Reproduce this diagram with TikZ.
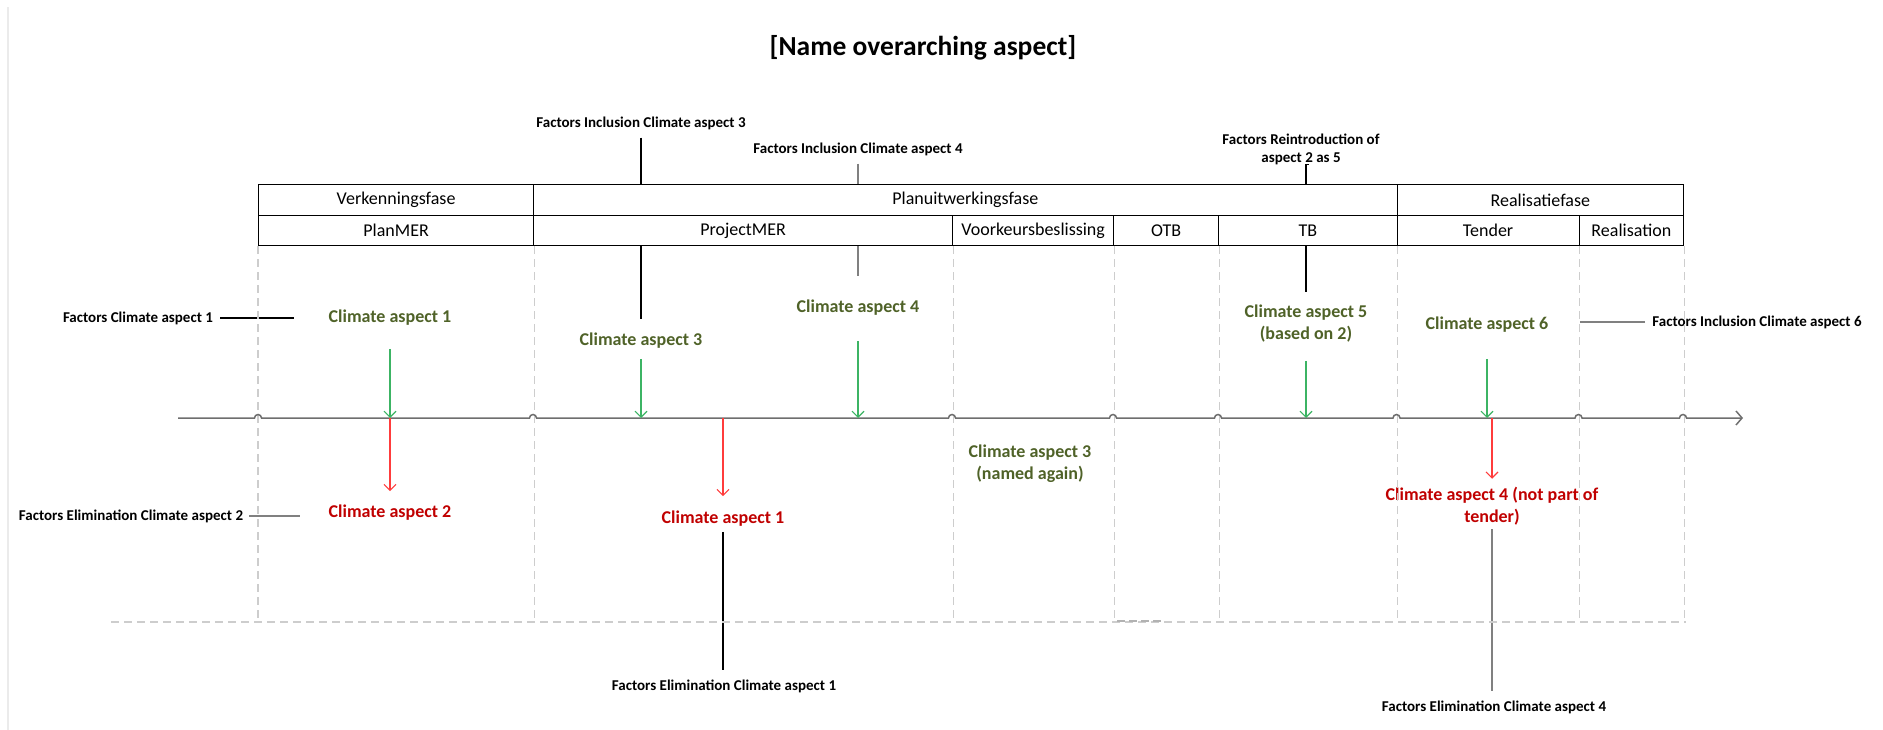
\documentclass[tikz,border=0pt]{standalone}
\usepackage{fontspec}
\setmainfont{Carlito}
\usetikzlibrary{arrows.meta}

\definecolor{aspgreen}{HTML}{4F6228}
\definecolor{aspred}{HTML}{C00000}
\definecolor{arrgreen}{RGB}{60,180,100}
\definecolor{arrred}{RGB}{255,60,60}
\definecolor{guidegray}{RGB}{205,205,205}
\definecolor{axisgray}{RGB}{110,110,110}

\tikzset{
  cell/.style={draw=black, line width=1.2pt, fill=white, inner sep=0pt,
    anchor=north west, font=\fontsize{18}{22}\selectfont},
  factor/.style={inner sep=0pt, align=center, text=black,
    font=\bfseries\fontsize{15}{18}\selectfont},
  keep/.style={inner sep=0pt, align=center, text=aspgreen,
    font=\bfseries\fontsize{18}{22}\selectfont},
  drop/.style={inner sep=0pt, align=center, text=aspred,
    font=\bfseries\fontsize{18}{22}\selectfont},
  link/.style={line width=1.1pt, draw=black},
  softlink/.style={line width=1.1pt, draw=gray},
  guide/.style={draw=guidegray, line width=1.3pt, dash pattern=on 8pt off 5pt},
  addarrow/.style={draw=arrgreen, line width=1.1pt,
    -{Straight Barb[length=6pt,width=12pt,line width=1.1pt]}},
  droparrow/.style={draw=arrred, line width=1.1pt,
    -{Straight Barb[length=6pt,width=12pt,line width=1.1pt]}},
  axis/.style={draw=axisgray, line width=1.5pt,
    -{Straight Barb[length=6pt,width=14pt,line width=1.5pt]}}
}

\begin{document}
\begin{tikzpicture}[x=1pt,y=-1pt]
\useasboundingbox (0,0) rectangle (1883,730);

% faint page edge
\draw[draw=black!8, line width=1.5pt] (8,7) -- (8,730);

% title
\node[inner sep=0pt, font=\bfseries\fontsize{27.5}{32}\selectfont] (title) at (923,48) {[Name overarching aspect]};

% factor labels
\node[factor] (fi3) at (641,123) {Factors Inclusion Climate aspect 3};
\node[factor] (fi4) at (858,149) {Factors Inclusion Climate aspect 4};
\node[factor] (fr5) at (1301,149) {Factors Reintroduction of\\aspect 2 as 5};
\node[factor] (fc1) at (138,318) {Factors Climate aspect 1};
\node[factor] (fi6) at (1757,322) {Factors Inclusion Climate aspect 6};
\node[factor] (fe2) at (131,516) {Factors Elimination Climate aspect 2};
\node[factor] (fe1) at (724,686) {Factors Elimination Climate aspect 1};
\node[factor] (fe4) at (1494,707) {Factors Elimination Climate aspect 4};

% climate aspects kept / added
\node[keep] (ca1) at (390,318) {Climate aspect 1};
\node[keep] (ca3) at (641,341) {Climate aspect 3};
\node[keep] (ca4) at (858,308) {Climate aspect 4};
\node[keep] (ca5) at (1306,324) {Climate aspect 5\\(based on 2)};
\node[keep] (ca6) at (1487,325) {Climate aspect 6};
\node[keep] (ca3b) at (1030,464) {Climate aspect 3\\(named again)};

% climate aspects dropped
\node[drop] (rc2) at (390,513) {Climate aspect 2};
\node[drop] (rc1) at (723,519) {Climate aspect 1};
\node[drop] (rc4) at (1492,506) {Climate aspect 4 (not part of\\tender)};

% links from factors to aspects (the table covers the middle part)
\draw[link, shorten <=8pt, shorten >=14pt] (fi3) -- (ca3);
\draw[softlink, shorten <=8pt, shorten >=24pt] (fi4) -- (ca4);
\draw[link, shorten <=8pt, shorten >=13pt] (fr5.south) -- (fr5.south -| ca5) -- (ca5.north);
\draw[link, shorten <=7pt, shorten >=34pt] (fc1.east) -- (fc1.east -| ca1.west);
\draw[softlink, shorten <=7pt, shorten >=31pt] (fi6.west) -- (fi6.west -| ca6.east);
\draw[softlink, shorten <=6pt, shorten >=28pt] (fe2.east) -- (fe2.east -| rc2.west);
\draw[link, shorten <=5pt, shorten >=9pt] (rc1.south) -- (rc1.south |- fe1.north);
\draw[softlink, shorten <=4pt, shorten >=9pt] (rc4.south) -- (rc4.south |- fe4.north);

% phase table
\node[cell, minimum width=275pt, minimum height=31pt] (verk) at (258,184) {Verkenningsfase};
\node[cell, minimum width=863.5pt, minimum height=31pt] (plan) at (533,184) {Planuitwerkingsfase};
\node[cell, minimum width=286.5pt, minimum height=31pt] (reali) at (1396.5,184) {Realisatiefase};
\node[cell, minimum width=275pt, minimum height=30pt] (planmer) at (258,215) {PlanMER};
\node[cell, minimum width=419pt, minimum height=30pt] (projmer) at (533,215) {ProjectMER};
\node[cell, minimum width=161pt, minimum height=30pt] (voork) at (952,215) {Voorkeursbeslissing};
\node[cell, minimum width=105pt, minimum height=30pt] (otb) at (1113,215) {OTB};
\node[cell, minimum width=178.5pt, minimum height=30pt] (tb) at (1218,215) {TB};
\node[cell, minimum width=182pt, minimum height=30pt] (tender) at (1396.5,215) {Tender};
\node[cell, minimum width=104.5pt, minimum height=30pt] (realis) at (1578.5,215) {Realisation};

% phase guides
\coordinate (base) at (0,622);
\foreach \c in {planmer.south west, planmer.south east, projmer.south east,
                voork.south east, otb.south east, tb.south east,
                tender.south east, realis.south east}
  \draw[guide] (\c) -- (\c |- base);
\coordinate (baseL) at (111,622);
\coordinate (baseR) at (1686,622);
\draw[guide] (baseL) -- (baseR);
\coordinate (smudgeL) at (1117,621);
\coordinate (smudgeR) at (1163,621);
\draw[draw=black!30, line width=1.3pt, dash pattern=on 8pt off 4pt] (smudgeL) -- (smudgeR);

% time axis with hops over the guides
\coordinate (tl0) at (178,418);
\coordinate (tl1) at (1743,418);
\draw[axis] (tl0)
  foreach \x in {258,533,952,1113,1218,1396.5,1578.5,1683} {
    -- (\x-3.5,418) arc[start angle=180, end angle=360, radius=3.5]
  } -- (tl1);

% aspects entering the process
\draw[addarrow, shorten <=23pt] (ca1.south) -- (ca1.south |- tl0);
\draw[addarrow, shorten <=10pt] (ca3.south) -- (ca3.south |- tl0);
\draw[addarrow, shorten <=25pt] (ca4.south) -- (ca4.south |- tl0);
\draw[addarrow, shorten <=18pt] (ca5.south) -- (ca5.south |- tl0);
\draw[addarrow, shorten <=26pt] (ca6.south) -- (ca6.south |- tl0);

% aspects leaving the process
\draw[droparrow, shorten >=14pt] (rc2.north |- tl0) -- (rc2.north);
\draw[droparrow, shorten >=15pt] (rc1.north |- tl0) -- (rc1.north);
\draw[droparrow, shorten >=8pt] (rc4.north |- tl0) -- (rc4.north);

\end{tikzpicture}
\end{document}
